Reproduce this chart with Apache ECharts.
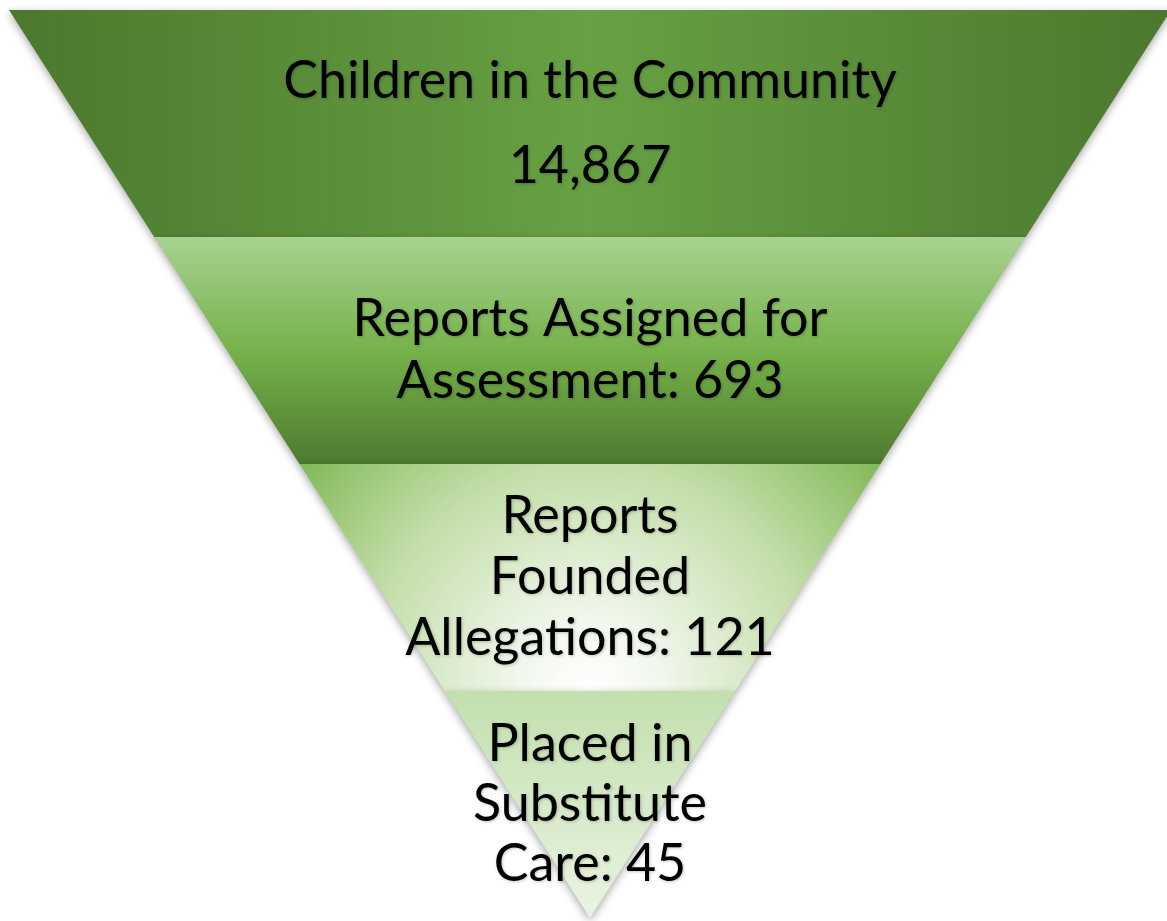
<!DOCTYPE html>
<html>
<head>
<meta charset="utf-8">
<script src="https://cdn.jsdelivr.net/npm/echarts@6/dist/echarts.min.js"></script>
<style>
  html, body { margin: 0; padding: 0; background: #fff; }
  #chart { width: 1167px; height: 921px; }
</style>
</head>
<body>
<div id="chart"></div>
<script>
  // stages of the funnel, top to bottom
  var stageNames = [
    'Children in the Community',
    'Reports Assigned for\nAssessment',
    'Reports\nFounded\nAllegations',
    'Placed in\nSubstitute\nCare'
  ];
  var stageCounts = [14867, 693, 121, 45];

  // fills for each band
  var fills = [
    { type: 'linear', x: 0, y: 0, x2: 1, y2: 0, colorStops: [
      { offset: 0, color: '#4b782e' }, { offset: 0.5, color: '#67a143' }, { offset: 1, color: '#4b782e' }] },
    { type: 'linear', x: 0, y: 0, x2: 0, y2: 1, colorStops: [
      { offset: 0, color: '#a7d291' }, { offset: 0.5, color: '#76b24a' }, { offset: 1, color: '#4e7a30' }] },
    { type: 'radial', x: 0.5, y: 1, r: 2, colorStops: [
      { offset: 0, color: '#ffffff' }, { offset: 0.15, color: '#f2f8ee' }, { offset: 0.5, color: '#c3dea9' },
      { offset: 0.85, color: '#7ab44e' }, { offset: 1, color: '#70ae44' }] },
    { type: 'linear', x: 0, y: 0, x2: 0, y2: 1, colorStops: [
      { offset: 0, color: '#c2dfad' }, { offset: 1, color: '#eaf4e3' }] }
  ];
  var lineHeights = [85, 62, 61, 60];

  function labelText (i) {
    if (i === 0) return stageNames[i] + '\n' + stageCounts[i].toLocaleString('en-US');
    return stageNames[i] + ': ' + stageCounts[i];
  }

  // the drawing is an even inverted triangle, so each band is sized by its rank
  var seriesData = stageNames.map(function (name, i) {
    return {
      name: name,
      value: stageNames.length - i,
      count: stageCounts[i],
      itemStyle: { color: fills[i] },
      label: { formatter: labelText(i), lineHeight: lineHeights[i] }
    };
  });

  var chart = echarts.init(document.getElementById('chart'));
  chart.setOption({
    backgroundColor: '#ffffff',
    animation: false,
    series: [{
      type: 'funnel',
      left: 9,
      top: 10,
      width: 1162,
      height: 908,
      min: 0,
      max: stageNames.length,
      minSize: '0%',
      maxSize: '100%',
      sort: 'descending',
      gap: 0,
      itemStyle: {
        borderWidth: 0,
        shadowBlur: 8,
        shadowOffsetY: 3,
        shadowColor: 'rgba(0,0,0,0.35)'
      },
      label: {
        show: true,
        position: 'inside',
        color: '#000',
        fontFamily: 'Lato',
        fontSize: 52,
        textShadowColor: 'rgba(0,0,0,0.22)',
        textShadowBlur: 3,
        textShadowOffsetX: 1,
        textShadowOffsetY: 1
      },
      labelLine: { show: false },
      emphasis: { disabled: true },
      data: seriesData
    }]
  });
</script>
</body>
</html>
